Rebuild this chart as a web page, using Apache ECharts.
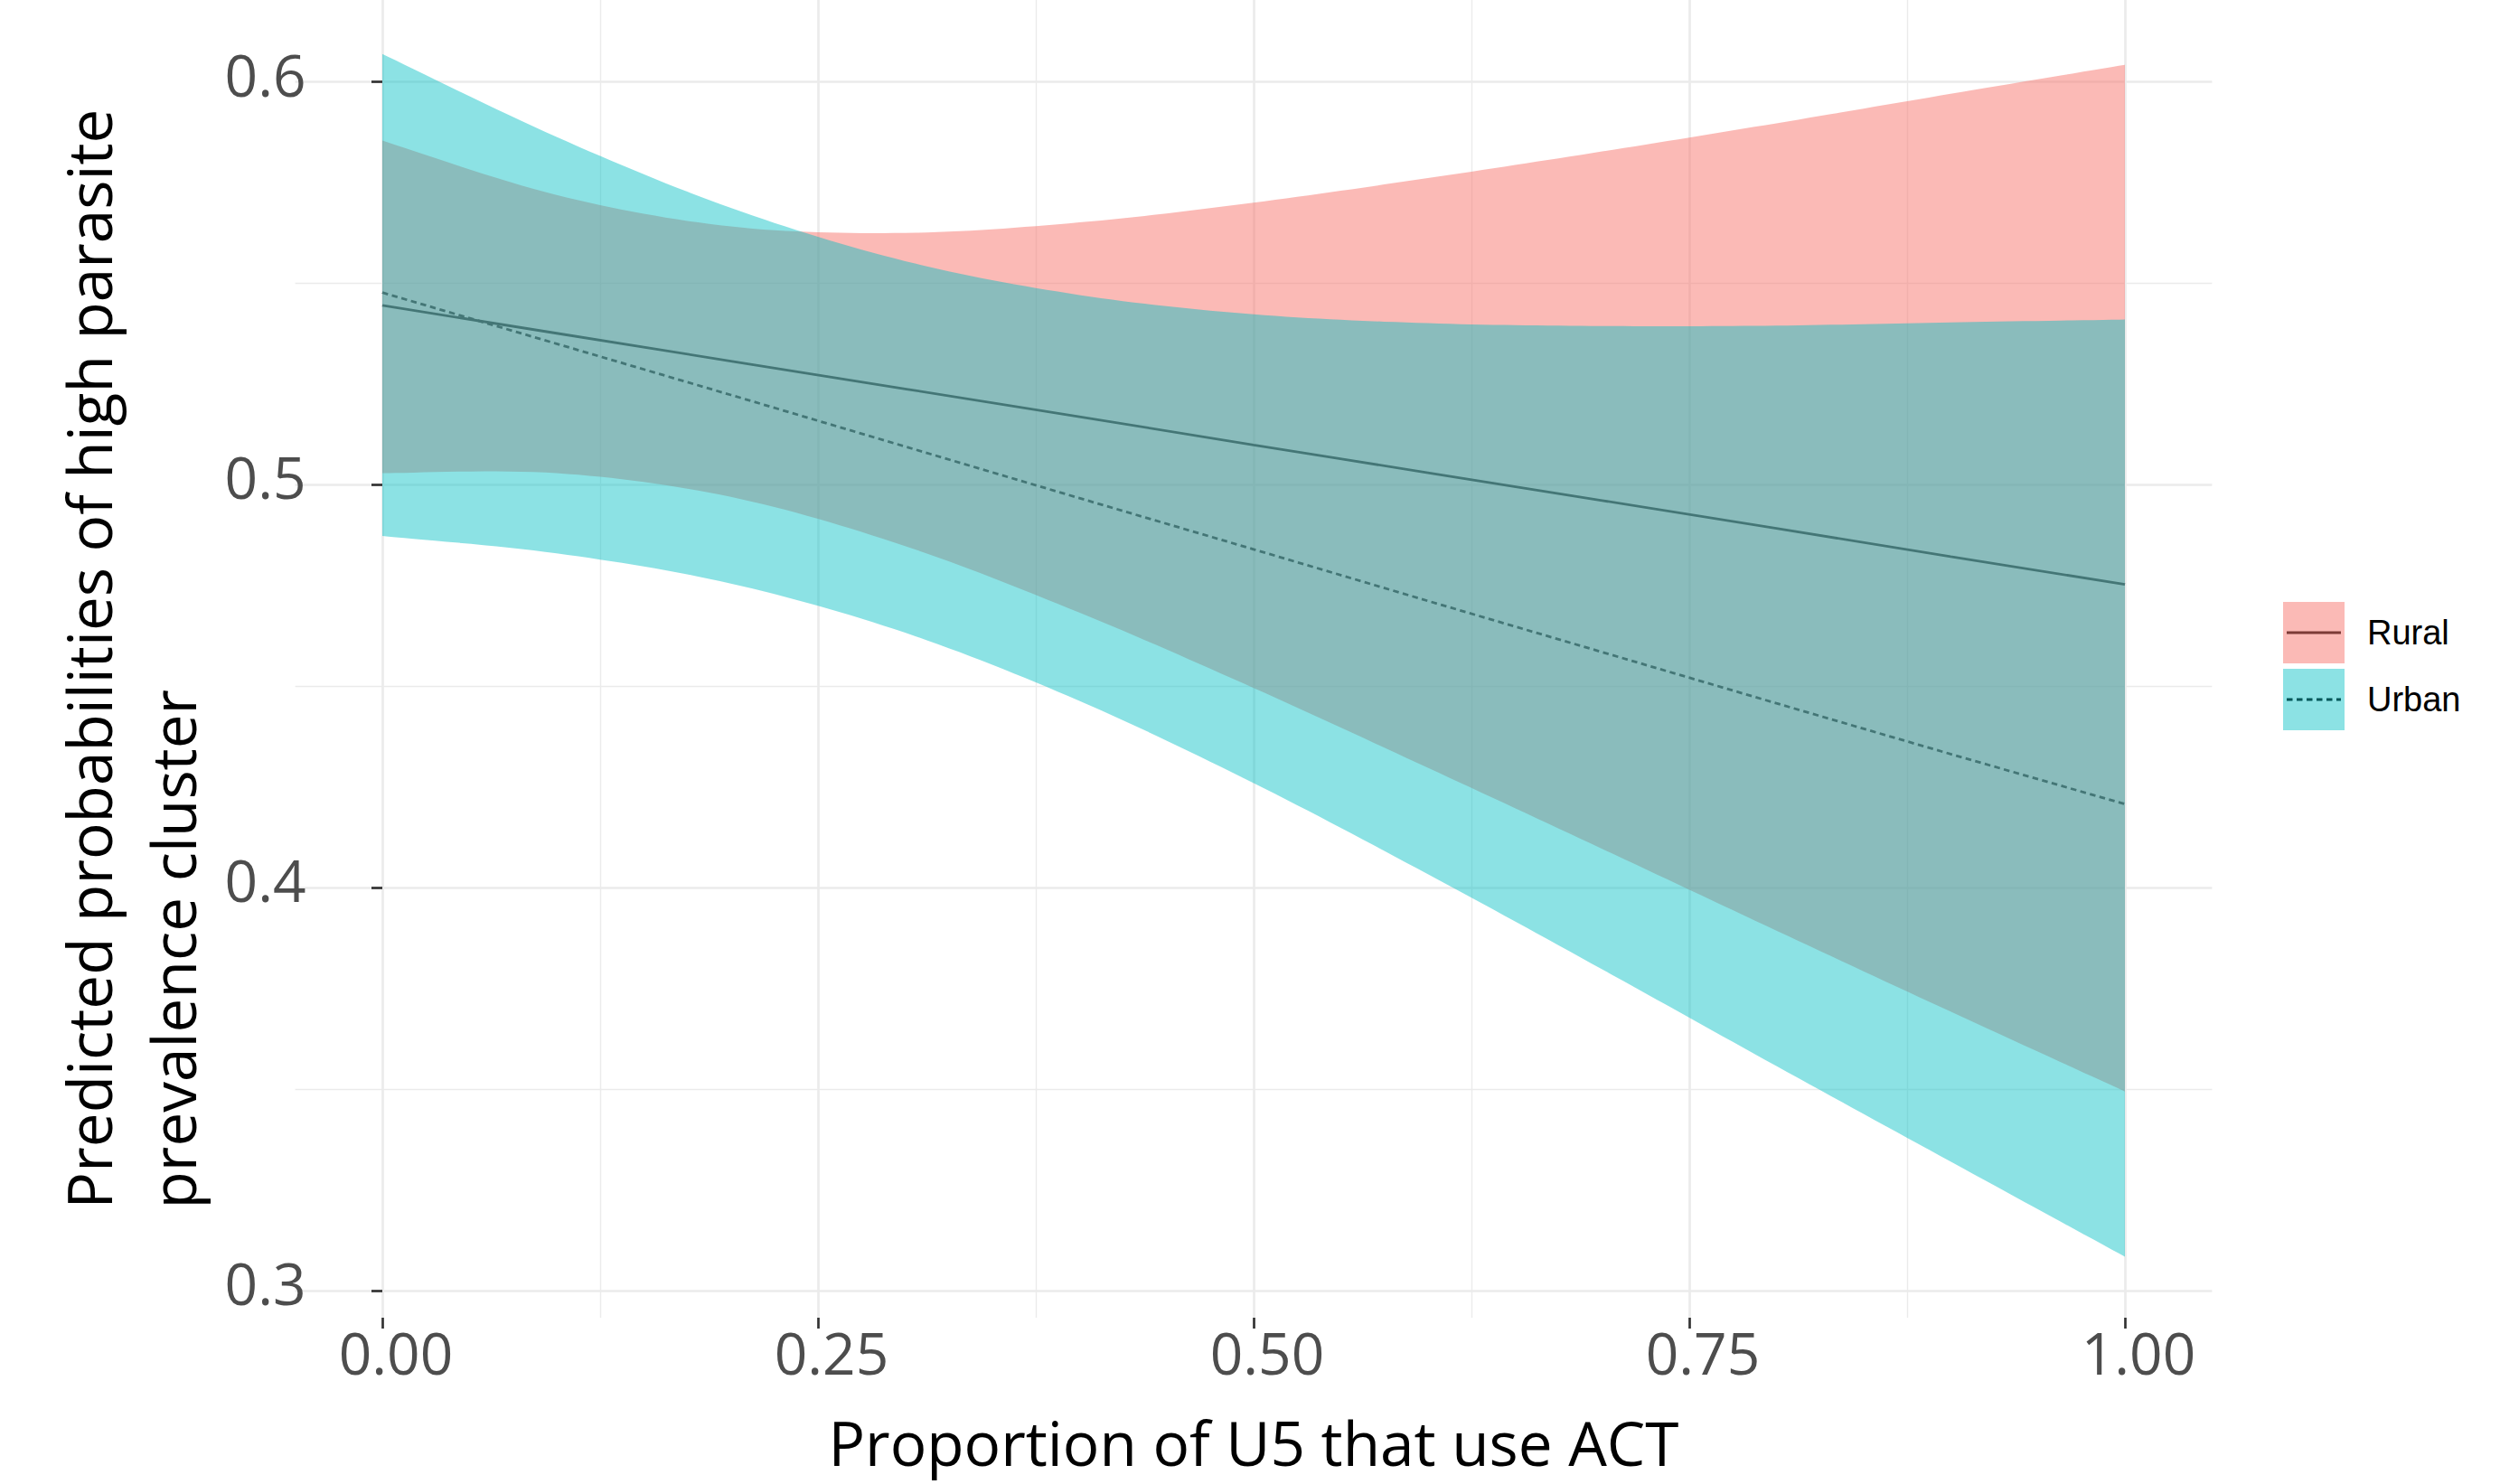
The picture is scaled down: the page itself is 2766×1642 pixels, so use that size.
<!DOCTYPE html>
<html>
<head>
<meta charset="utf-8">
<title>Predicted probabilities by ACT use</title>
<script src="https://cdn.jsdelivr.net/npm/echarts@6/dist/echarts.min.js"></script>
<style>
  html, body { margin: 0; padding: 0; background: #ffffff; }
  #chart { width: 2766px; height: 1642px; }
</style>
</head>
<body>
<div id="chart"></div>
<script>
// Proportion of under-fives using ACT (x positions of the estimates)
const actShare = [0, 0.1, 0.2, 0.3, 0.4, 0.5, 0.6, 0.7, 0.8, 0.9, 1.0];

// Predicted probability of a high parasite prevalence cluster
const ruralFit = [0.5444, 0.5375, 0.5306, 0.5237, 0.5168, 0.5098, 0.5029, 0.4960, 0.4891, 0.4821, 0.4752];
const urbanFit = [0.5476, 0.5349, 0.5222, 0.5094, 0.4966, 0.4839, 0.4711, 0.4584, 0.4457, 0.4331, 0.4207];

// Confidence bands
const ruralLower = [0.5028, 0.5028, 0.4969, 0.4847, 0.4682, 0.4495, 0.4297, 0.4096, 0.3893, 0.3692, 0.3494];
const ruralUpper = [0.5853, 0.5718, 0.5640, 0.5624, 0.5650, 0.5699, 0.5760, 0.5826, 0.5896, 0.5969, 0.6041];
const urbanLower = [0.4872, 0.4829, 0.4754, 0.4632, 0.4463, 0.4259, 0.4033, 0.3797, 0.3557, 0.3320, 0.3084];
const urbanUpper = [0.6068, 0.5862, 0.5686, 0.5554, 0.5470, 0.5422, 0.5400, 0.5393, 0.5394, 0.5402, 0.5409];

// Axis breaks and labels
const xTicks = [0, 0.25, 0.5, 0.75, 1];
const xTickLabels = ['0.00', '0.25', '0.50', '0.75', '1.00'];
const xMinorTicks = [0.125, 0.375, 0.625, 0.875];
const yTicks = [0.3, 0.4, 0.5, 0.6];
const yTickLabels = ['0.3', '0.4', '0.5', '0.6'];
const yMinorTicks = [0.35, 0.45, 0.55];

const groupNames = ['Rural', 'Urban'];
const xTitle = 'Proportion of U5 that use ACT';
const yTitleLines = ['Predicted probabilities of high parasite', 'prevalence cluster'];

// Visual settings
const RURAL_FILL = 'rgba(248,118,109,0.5)';
const URBAN_FILL = 'rgba(0,191,196,0.45)';
const LINE_COLOR = '#000000';
const GRID_COLOR = '#EBEBEB';
const DOTTED = [6.5, 4.5];
const TITLE_FONT = 'Open Sans';

function pairs(values) {
  return actShare.map((x, i) => [x, values[i]]);
}
function bandRows(lower, upper) {
  return actShare.map((x, i) => [x, lower[i], upper[i]]);
}
function labelFor(ticks, labels) {
  return function (v) {
    const i = ticks.findIndex(t => Math.abs(t - v) < 1e-9);
    return i >= 0 ? labels[i] : '';
  };
}

// Catmull-Rom curve through pixel points, used to draw the band edges smoothly
function smoothEdge(pts) {
  const out = [];
  const steps = 16;
  const last = pts.length - 1;
  for (let i = 0; i < last; i++) {
    const p0 = pts[Math.max(i - 1, 0)];
    const p1 = pts[i];
    const p2 = pts[i + 1];
    const p3 = pts[Math.min(i + 2, last)];
    for (let s = 0; s < steps; s++) {
      const t = s / steps, t2 = t * t, t3 = t2 * t;
      const pt = [0, 1].map(k => 0.5 * (
        2 * p1[k] +
        (-p0[k] + p2[k]) * t +
        (2 * p0[k] - 5 * p1[k] + 4 * p2[k] - p3[k]) * t2 +
        (-p0[k] + 3 * p1[k] - 3 * p2[k] + p3[k]) * t3
      ));
      out.push(pt);
    }
  }
  out.push(pts[last]);
  return out;
}

// One filled ribbon per series, drawn from the [x, lower, upper] rows
function bandRenderer(fill) {
  return function (params, api) {
    if (params.dataIndexInside !== 0) return null;
    const n = params.dataInsideLength;
    const lower = [];
    const upper = [];
    for (let i = 0; i < n; i++) {
      const x = api.value(0, i);
      lower.push(api.coord([x, api.value(1, i)]));
      upper.push(api.coord([x, api.value(2, i)]));
    }
    const points = smoothEdge(upper).concat(smoothEdge(lower).reverse());
    return {
      type: 'polygon',
      shape: { points: points },
      style: { fill: fill, stroke: null },
      silent: true
    };
  };
}

const chart = echarts.init(document.getElementById('chart'), null, { renderer: 'svg' });

const xRange = { min: -0.05, max: 1.05 };
const yRange = { min: 0.29327, max: 0.62018 };

const option = {
  backgroundColor: '#ffffff',
  animation: false,
  grid: {
    left: 326.6, right: 318.6, top: 0, bottom: 184,
    containLabel: false,
    outerBoundsMode: 'none'
  },
  legend: {
    orient: 'vertical',
    left: 2526,
    top: 666,
    padding: 0,
    itemWidth: 60,
    itemHeight: 85,
    itemGap: 6,
    selectedMode: false,
    textStyle: { fontFamily: 'Liberation Sans', fontSize: 38, color: '#000000', padding: [0, 0, 0, 24] },
    data: [
      {
        name: groupNames[0],
        itemStyle: { color: RURAL_FILL, borderWidth: 0 },
        lineStyle: { color: LINE_COLOR, width: 2.8, type: 'solid', opacity: 1 }
      },
      {
        name: groupNames[1],
        itemStyle: { color: URBAN_FILL, borderWidth: 0 },
        lineStyle: { color: LINE_COLOR, width: 2.8, type: DOTTED, opacity: 1 }
      }
    ]
  },
  xAxis: [
    {
      type: 'value',
      min: xRange.min,
      max: xRange.max,
      position: 'bottom',
      axisLine: { show: false },
      axisTick: { show: true, length: 12, customValues: xTicks, lineStyle: { color: '#333333', width: 2.7 } },
      axisLabel: {
        customValues: xTicks,
        formatter: labelFor(xTicks, xTickLabels),
        color: '#4D4D4D',
        fontFamily: TITLE_FONT,
        fontSize: 64,
        lineHeight: 64,
        margin: 6,
        padding: [0, 0, 0, 30]
      },
      splitLine: { show: true, lineStyle: { color: GRID_COLOR, width: 2.7 } },
      name: xTitle,
      nameLocation: 'middle',
      nameGap: 98,
      nameTextStyle: { fontFamily: TITLE_FONT, fontSize: 67.5, lineHeight: 80, color: '#000000' }
    },
    {
      type: 'value',
      min: xRange.min,
      max: xRange.max,
      axisLine: { show: false },
      axisTick: { show: false, customValues: xMinorTicks },
      axisLabel: { show: false },
      splitLine: { show: true, lineStyle: { color: GRID_COLOR, width: 1.4 } }
    }
  ],
  yAxis: [
    {
      type: 'value',
      min: yRange.min,
      max: yRange.max,
      position: 'left',
      axisLine: { show: false },
      axisTick: { show: true, length: 12, customValues: yTicks, lineStyle: { color: '#333333', width: 2.7 } },
      axisLabel: {
        customValues: yTicks,
        formatter: labelFor(yTicks, yTickLabels),
        color: '#4D4D4D',
        fontFamily: TITLE_FONT,
        fontSize: 64,
        margin: -12,
        verticalAlign: 'bottom',
        lineHeight: 16
      },
      splitLine: { show: true, lineStyle: { color: GRID_COLOR, width: 2.7 } },
      name: '{a|' + yTitleLines[0] + '}\n{a|' + yTitleLines[1] + '}',
      nameLocation: 'middle',
      nameRotate: 90,
      nameGap: 76.5,
      nameTextStyle: {
        fontFamily: TITLE_FONT,
        fontSize: 67.5,
        lineHeight: 93,
        color: '#000000',
        align: 'center',
        rich: {
          a: { fontFamily: TITLE_FONT, fontSize: 67.5, lineHeight: 93, color: '#000000', align: 'left' }
        }
      }
    },
    {
      type: 'value',
      min: yRange.min,
      max: yRange.max,
      axisLine: { show: false },
      axisTick: { show: false, customValues: yMinorTicks },
      axisLabel: { show: false },
      splitLine: { show: true, lineStyle: { color: GRID_COLOR, width: 1.4 } }
    }
  ],
  series: [
    // fitted lines sit beneath the translucent bands
    {
      name: groupNames[0],
      type: 'line',
      z: 2,
      data: pairs(ruralFit),
      symbol: 'rect',
      showSymbol: false,
      silent: true,
      itemStyle: { color: RURAL_FILL },
      lineStyle: { color: LINE_COLOR, width: 2.8, type: 'solid' }
    },
    {
      name: groupNames[1],
      type: 'line',
      z: 2,
      data: pairs(urbanFit),
      symbol: 'rect',
      showSymbol: false,
      silent: true,
      itemStyle: { color: URBAN_FILL },
      lineStyle: { color: LINE_COLOR, width: 2.8, type: DOTTED }
    },
    {
      name: 'Rural band',
      type: 'custom',
      z: 3,
      clip: true,
      silent: true,
      data: bandRows(ruralLower, ruralUpper),
      encode: { x: 0, y: [1, 2] },
      renderItem: bandRenderer(RURAL_FILL)
    },
    {
      name: 'Urban band',
      type: 'custom',
      z: 4,
      clip: true,
      silent: true,
      data: bandRows(urbanLower, urbanUpper),
      encode: { x: 0, y: [1, 2] },
      renderItem: bandRenderer(URBAN_FILL)
    }
  ]
};

chart.setOption(option);
</script>
</body>
</html>
